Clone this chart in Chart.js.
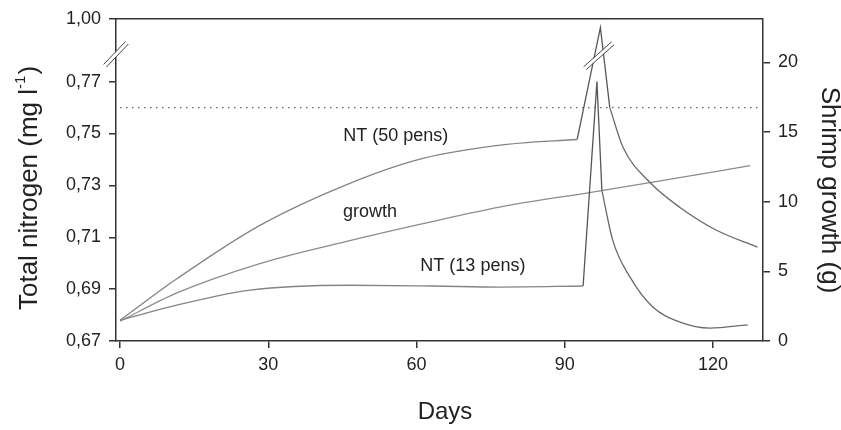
<!DOCTYPE html>
<html>
<head>
<meta charset="utf-8">
<script src="https://cdn.jsdelivr.net/npm/chart.js@4.4.0/dist/chart.umd.min.js"></script>
<style>
  html, body { margin: 0; padding: 0; background: #fff; }
</style>
</head>
<body>
<canvas id="myChart" width="841" height="430"></canvas>
<script>
// values
const nt50Days = [0, 11.5, 28.3, 46.5, 61.3, 78.3, 92.5, 97.2, 99.1, 101.8, 107.2, 113.3, 120.7, 129];
const nt50Vals = [0.678, 0.694, 0.7146, 0.7308, 0.7404, 0.7458, 0.7477, 0.9485, 0.760, 0.7446, 0.7312, 0.7215, 0.7127, 0.7062];

const nt13Days = [0, 11.5, 26.3, 46.5, 63.3, 76.9, 93.7, 96.5, 97.5, 99.7, 103.2, 107.8, 113.3, 119.4, 127.0];
const nt13Vals = [0.678, 0.6838, 0.6896, 0.6915, 0.6912, 0.6908, 0.6912, 0.770, 0.7281, 0.7088, 0.6946, 0.6831, 0.6773, 0.6750, 0.6762];

const growthDays = [0, 11.5, 28.3, 46.5, 61.3, 78.3, 95, 107.2, 127.5];
const growthVals = [1.42, 3.45, 5.56, 7.20, 8.42, 9.71, 10.65, 11.36, 12.58];

const limitDays = [0, 130];
const limitVals = [0.76, 0.76];

const dayTicks = [0, 30, 60, 90, 120];
const ntTicks = [0.67, 0.69, 0.71, 0.73, 0.75, 0.77, 1.00];
const growthTicks = [0, 5, 10, 15, 20];

const labelText = ['NT (50 pens)', 'growth', 'NT (13 pens)'];
const labelDays = [55.8, 50.6, 71.4];
const labelNT = [0.7492, 0.7196, 0.6988];

// broken left axis: above 0.78 the scale is squeezed
const brkAt = 0.78, brkK = 0.0647;
function brk(v) { return v <= brkAt ? v : brkAt + (v - brkAt) * brkK; }
function unbrk(v) { return v <= brkAt + 1e-9 ? v : brkAt + (v - brkAt) / brkK; }

function pts(days, vals, from, to, f) {
  let out = [];
  for (let i = from; i <= to; i++) out.push({x: days[i], y: f ? f(vals[i]) : vals[i]});
  return out;
}

const lineGray = '#848484', spikeGray = '#555';
function ds(data, axis, color, tension, mode) {
  return {
    data: data, yAxisID: axis, borderColor: color, borderWidth: 1.3,
    pointRadius: 0, fill: false, tension: tension,
    cubicInterpolationMode: mode || 'default'
  };
}

// each NT curve: smooth rise, straight spike, smooth decay
const datasets = [
  ds(pts(nt50Days, nt50Vals, 0, 6, brk), 'y', lineGray, 0.4, 'monotone'),
  ds(pts(nt50Days, nt50Vals, 6, 8, brk), 'y', spikeGray, 0),
  ds(pts(nt50Days, nt50Vals, 8, nt50Days.length - 1, brk), 'y', '#6a6a6a', 0.4, 'monotone'),
  ds(pts(nt13Days, nt13Vals, 0, 6, brk), 'y', lineGray, 0.4, 'monotone'),
  ds(pts(nt13Days, nt13Vals, 6, 8, brk), 'y', spikeGray, 0),
  ds(pts(nt13Days, nt13Vals, 8, nt13Days.length - 1, brk), 'y', '#6a6a6a', 0.4, 'monotone'),
  ds(pts(growthDays, growthVals, 0, growthDays.length - 1), 'y2', '#8c8c8c', 0.4, 'monotone'),
  Object.assign(ds(pts(limitDays, limitVals, 0, 1), 'y', '#666', 0), {borderDash: [1.5, 4.5], borderWidth: 1.2})
];

const font = '"Liberation Sans", Arial, Helvetica, sans-serif';
const axisColor = '#333';

function slash(ctx, cx, cy, dx, dy) {
  const n = Math.hypot(dx, dy), ox = dy / n * 1.9, oy = dx / n * 1.9;
  ctx.strokeStyle = '#fff'; ctx.lineWidth = 3.4;
  ctx.beginPath(); ctx.moveTo(cx - dx, cy + dy); ctx.lineTo(cx + dx, cy - dy); ctx.stroke();
  ctx.strokeStyle = '#444'; ctx.lineWidth = 1;
  [1, -1].forEach(s => {
    ctx.beginPath();
    ctx.moveTo(cx - dx + s * ox, cy + dy + s * oy);
    ctx.lineTo(cx + dx + s * ox, cy - dy + s * oy);
    ctx.stroke();
  });
}

const decor = {
  id: 'decor',
  afterDraw(chart) {
    const {ctx, chartArea: a} = chart;
    const x = chart.scales.x, y = chart.scales.y;
    ctx.save();
    // top of the frame
    ctx.strokeStyle = axisColor; ctx.lineWidth = 1.5;
    ctx.beginPath(); ctx.moveTo(a.left, a.top); ctx.lineTo(a.right, a.top); ctx.stroke();

    // axis break marks
    slash(ctx, a.left, y.getPixelForValue(brkAt) - 1.5, 11, 11.5);
    slash(ctx, x.getPixelForValue(nt50Days[7]) - 1.5, y.getPixelForValue(brkAt), 14, 12.5);

    // curve labels
    ctx.fillStyle = '#222';
    ctx.font = '18px ' + font;
    ctx.textAlign = 'center'; ctx.textBaseline = 'middle';
    labelText.forEach((t, i) => {
      ctx.fillText(t, x.getPixelForValue(labelDays[i]), y.getPixelForValue(brk(labelNT[i])));
    });

    // x title
    ctx.font = '24px ' + font;
    ctx.textBaseline = 'alphabetic';
    ctx.fillText('Days', 445, 419);

    // left title with superscript
    ctx.save();
    ctx.translate(37, 188);
    ctx.rotate(-Math.PI / 2);
    ctx.textAlign = 'left';
    const big = '26px ' + font, small = '15px ' + font;
    const p1 = 'Total nitrogen (mg l', sup = '-1', p2 = ')';
    ctx.font = big; const w1 = ctx.measureText(p1).width, w3 = ctx.measureText(p2).width;
    ctx.font = small; const w2 = ctx.measureText(sup).width;
    let sx = -(w1 + w2 + w3 + 1) / 2;
    ctx.font = big; ctx.fillText(p1, sx, 0); sx += w1;
    ctx.font = small; ctx.fillText(sup, sx, -12); sx += w2 + 1;
    ctx.font = big; ctx.fillText(p2, sx, 0);
    ctx.restore();

    // right title
    ctx.save();
    ctx.translate(822, 190);
    ctx.rotate(Math.PI / 2);
    ctx.font = '26px ' + font;
    ctx.textAlign = 'center';
    ctx.fillText('Shrimp growth (g)', 0, 0);
    ctx.restore();

    ctx.restore();
  }
};

const tickFont = {family: font, size: 18};
function axisGrid() {
  return {drawOnChartArea: false, drawTicks: true, tickLength: 7, color: axisColor, lineWidth: 1.5};
}

const config = {
  type: 'line',
  data: {datasets: datasets},
  options: {
    responsive: false,
    animation: false,
    devicePixelRatio: 1,
    layout: {padding: {top: 18, left: 0, right: 0, bottom: 0}},
    plugins: {legend: {display: false}, tooltip: {enabled: false}},
    scales: {
      x: {
        type: 'linear', position: 'bottom', min: -0.81, max: 130.1,
        afterBuildTicks: s => { s.ticks = dayTicks.map(v => ({value: v})); },
        afterFit: s => { s.height = 89; },
        ticks: {font: tickFont, color: '#222', padding: 6, maxRotation: 0},
        grid: axisGrid(),
        border: {display: true, color: axisColor, width: 1.5}
      },
      y: {
        type: 'linear', position: 'left', min: 0.67, max: brk(1.00),
        afterBuildTicks: s => { s.ticks = ntTicks.map(v => ({value: brk(v)})); },
        afterFit: s => { s.width = 116; },
        ticks: {
          font: tickFont, color: '#222', padding: 8,
          callback: v => unbrk(v).toFixed(2).replace('.', ',')
        },
        grid: axisGrid(),
        border: {display: true, color: axisColor, width: 1.5}
      },
      y2: {
        type: 'linear', position: 'right', min: 0, max: 23.12,
        afterBuildTicks: s => { s.ticks = growthTicks.map(v => ({value: v})); },
        afterFit: s => { s.width = 78; },
        ticks: {font: tickFont, color: '#222', padding: 8},
        grid: axisGrid(),
        border: {display: true, color: axisColor, width: 1.5}
      }
    }
  },
  plugins: [decor]
};

const myChart = new Chart(document.getElementById('myChart'), config);
</script>
</body>
</html>
